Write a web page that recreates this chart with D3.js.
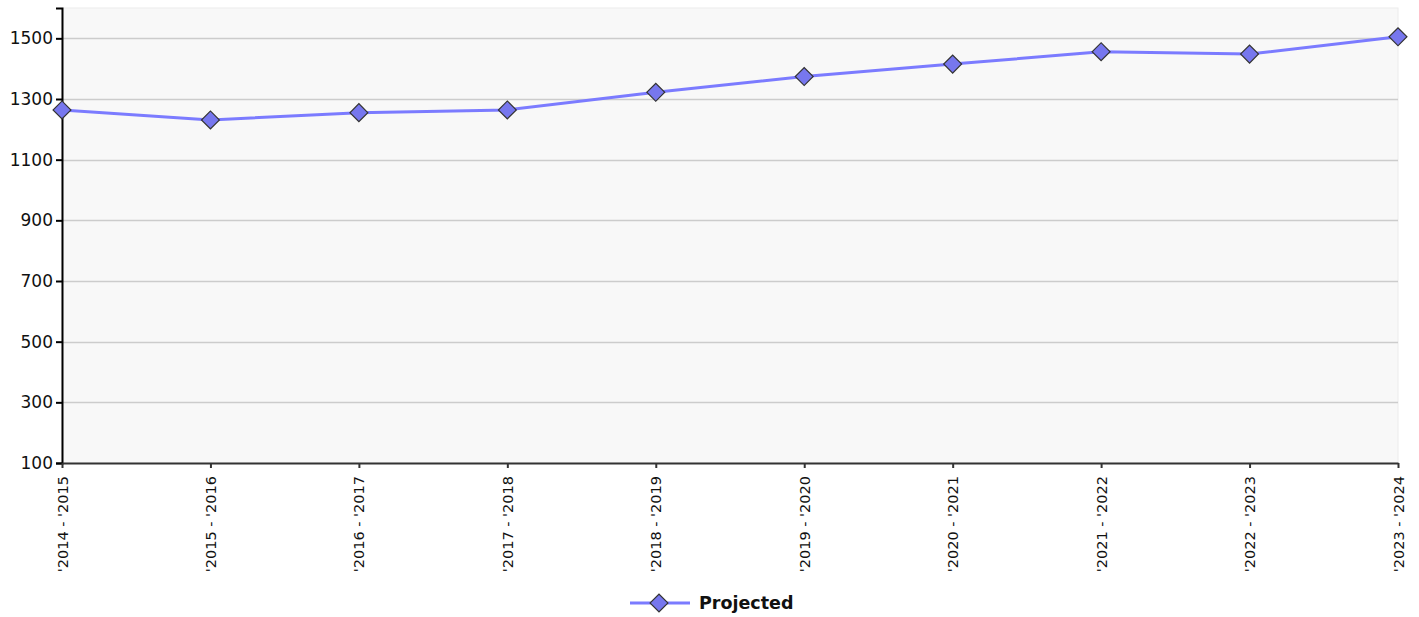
<!DOCTYPE html>
<html>
<head>
<meta charset="utf-8">
<script src="https://cdn.jsdelivr.net/npm/d3@7"></script>
<style>
  html, body { margin: 0; padding: 0; background: #ffffff; }
  svg { display: block; }
</style>
</head>
<body>
<svg id="chart" width="1419" height="617"></svg>
<script>
const categories = ["'2014 - '2015", "'2015 - '2016", "'2016 - '2017", "'2017 - '2018", "'2018 - '2019",
                    "'2019 - '2020", "'2020 - '2021", "'2021 - '2022", "'2022 - '2023", "'2023 - '2024"];
const projected = [1264, 1231, 1255, 1264, 1322, 1374, 1415, 1456, 1448, 1505];
const yTicks = [100, 300, 500, 700, 900, 1100, 1300, 1500];
const seriesName = "Projected";

const svg = d3.select("#chart");
const margin = { left: 62, right: 21, top: 8, bottom: 154 };
const W = 1419, H = 617;
const plotW = W - margin.left - margin.right;
const plotH = H - margin.top - margin.bottom;

const x = d3.scalePoint().domain(categories).range([0, plotW]);
const y = d3.scaleLinear().domain([100, 1600]).range([plotH, 0]);

const g = svg.append("g").attr("transform", `translate(${margin.left},${margin.top})`);

g.append("rect").attr("x", 0).attr("y", 0).attr("width", plotW).attr("height", plotH)
  .attr("fill", "#f8f8f8").attr("stroke", "#ececec");

g.append("g").selectAll("line").data(yTicks.filter(d => d > 100)).join("line")
  .attr("x1", 0).attr("x2", plotW)
  .attr("y1", d => Math.round(y(d)) + 0.5).attr("y2", d => Math.round(y(d)) + 0.5)
  .attr("stroke", "#cccccc").attr("stroke-width", 1.5);

const yAxis = g.append("g")
  .call(d3.axisLeft(y).tickValues(yTicks).tickSize(6).tickPadding(3).tickFormat(d3.format("d")));
yAxis.select(".domain").attr("stroke", "#000").attr("stroke-width", 2);
yAxis.selectAll(".tick line").attr("stroke", "#000").attr("stroke-width", 2);
yAxis.selectAll(".tick text").attr("fill", "#111")
  .style("font-family", "'DejaVu Sans', Verdana, sans-serif").style("font-size", "17px");

const xAxis = g.append("g").attr("transform", `translate(0,${plotH})`)
  .call(d3.axisBottom(x).tickSize(5).tickSizeOuter(0));
xAxis.select(".domain").attr("stroke", "#333").attr("stroke-width", 2);
xAxis.selectAll(".tick line").attr("stroke", "#333").attr("stroke-width", 2);
xAxis.selectAll(".tick text")
  .attr("transform", "rotate(-90)")
  .attr("text-anchor", "end")
  .attr("dy", "0.35em").attr("x", -13).attr("y", 0)
  .attr("fill", "#111")
  .style("font-family", "'DejaVu Sans', Verdana, sans-serif").style("font-size", "14.5px");

const line = d3.line().x((d, i) => x(categories[i])).y(d => y(d));
g.append("path").datum(projected)
  .attr("d", line).attr("fill", "none")
  .attr("stroke", "#7b7bff").attr("stroke-width", 3);

const diamond = d3.symbol().type(d3.symbolSquare).size(160);
g.append("g").selectAll("path").data(projected).join("path")
  .attr("d", diamond())
  .attr("transform", (d, i) => `translate(${x(categories[i])},${y(d)}) rotate(45)`)
  .attr("fill", "#7777ee").attr("stroke", "#333").attr("stroke-width", 1.2);

// legend
const lg = svg.append("g").attr("transform", "translate(630,603)");
lg.append("line").attr("x1", 0).attr("x2", 60).attr("y1", 0).attr("y2", 0)
  .attr("stroke", "#7b7bff").attr("stroke-width", 3);
lg.append("path").attr("d", diamond()).attr("transform", "translate(29,0) rotate(45)")
  .attr("fill", "#7777ee").attr("stroke", "#333").attr("stroke-width", 1.2);
lg.append("text").attr("x", 69).attr("y", 0).attr("dy", "0.35em")
  .attr("fill", "#111")
  .style("font-family", "'DejaVu Sans', Verdana, sans-serif").style("font-size", "17.5px").style("font-weight", "bold")
  .text(seriesName);
</script>
</body>
</html>
